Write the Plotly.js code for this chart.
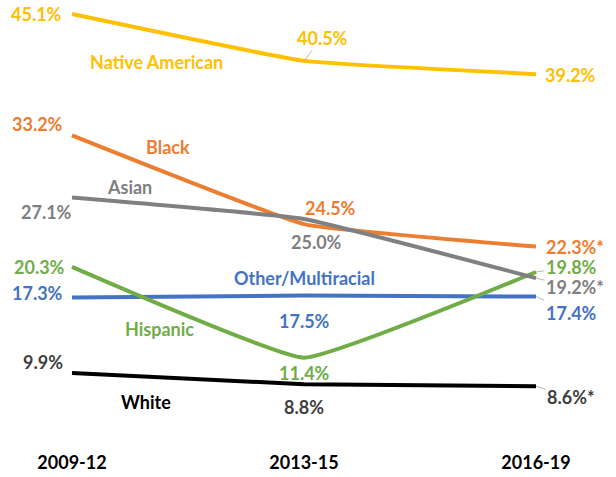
<!DOCTYPE html>
<html>
<head>
<meta charset="utf-8">
<script src="https://cdn.plot.ly/plotly-3.0.1.min.js"></script>
<style>html,body{margin:0;padding:0;background:#fff}#chart{width:616px;height:477px}</style>
</head>
<body>
<div id="chart"></div>
<script>
// ---- data ----
var periods = ["2009-12", "2013-15", "2016-19"];
var nativeAmerican = [45.1, 40.5, 39.2];
var black = [33.2, 24.5, 22.3];
var asian = [27.1, 25.0, 19.2];
var hispanic = [20.3, 11.4, 19.8];
var otherMulti = [17.3, 17.5, 17.4];
var white = [9.9, 8.8, 8.6];
var seriesNames = ["Native American", "Black", "Asian", "Hispanic", "Other/Multiracial", "White"];
var starred = { "Black": [false, false, true], "Asian": [false, false, true], "White": [false, false, true] };

// ---- styles ----
var FONT = "Lato, 'Open Sans', sans-serif";
var styles = {
  "Native American": { color: "#FFC000", label: "#FFC000", valColor: ["#FFC000","#FFC000","#FFC000"] },
  "Black": { color: "#ED7D31", label: "#ED7D31", valColor: ["#ED7D31","#ED7D31","#ED7D31"] },
  "Asian": { color: "#808080", label: "#7F7F7F", valColor: ["#7F7F7F","#7F7F7F","#7F7F7F"] },
  "Hispanic": { color: "#70AD47", label: "#70AD47", valColor: ["#70AD47","#70AD47","#70AD47"] },
  "Other/Multiracial": { color: "#4472C4", label: "#4472C4", valColor: ["#4472C4","#4472C4","#4472C4"] },
  "White": { color: "#000000", label: "#000000", valColor: ["#404040","#404040","#404040"] }
};
// value label pixel offsets [dx, dy, leader]
var valOffsets = {
  "Native American": [[-35, 0, 0], [18, -23, 1], [34, 1, 0]],
  "Black": [[-34, -11, 0], [26, -16, 0], [39, 0, 0]],
  "Asian": [[-25, 14, 0], [12, 23, 0], [39, 9, 1]],
  "Hispanic": [[-32, 0, 0], [0, 15, 0], [35, -5, 1]],
  "Other/Multiracial": [[-34, -5, 0], [0, 26, 0], [35, 16, 1]],
  "White": [[-29, -11, 0], [0, 23, 0], [35, 11, 1]]
};
// series name label positions (in axis units)
var namePos = {
  "Native American": [0.366, 40.4],
  "Black": [0.414, 32.06],
  "Asian": [0.25, 28.14],
  "Hispanic": [0.379, 14.2],
  "Other/Multiracial": [1.0, 19.2],
  "White": [0.319, 7.06]
};

var values = {
  "Native American": nativeAmerican, "Black": black, "Asian": asian,
  "Hispanic": hispanic, "Other/Multiracial": otherMulti, "White": white
};
var drawOrder = ["White", "Other/Multiracial", "Hispanic", "Black", "Asian", "Native American"];
var xIdx = periods.map(function (p, i) { return i; });

var traces = drawOrder.map(function (name) {
  return {
    x: xIdx, y: values[name], type: "scatter", mode: "lines", name: name,
    line: { color: styles[name].color, width: 4, shape: "spline", smoothing: 0.3 },
    hoverinfo: "skip", cliponaxis: false
  };
});

var annotations = [];
seriesNames.forEach(function (name) {
  var vals = values[name];
  vals.forEach(function (v, i) {
    var off = valOffsets[name][i];
    var star = starred[name] && starred[name][i] ? "*" : "";
    var a = {
      xref: "x", yref: "y", x: i, y: v,
      text: "<b>" + v.toFixed(1) + "%" + star + "</b>",
      font: { family: FONT, size: 18, color: styles[name].valColor[i] },
      xanchor: "center", yanchor: "middle"
    };
    if (off[2]) {
      a.showarrow = true; a.arrowhead = 0; a.arrowwidth = 0.8; a.arrowcolor = "#A6A6A6";
      a.ax = off[0]; a.ay = off[1]; a.standoff = 0; a.startstandoff = 0;
    } else {
      a.showarrow = false; a.xshift = off[0]; a.yshift = -off[1];
    }
    annotations.push(a);
  });
  annotations.push({
    xref: "x", yref: "y", x: namePos[name][0], y: namePos[name][1],
    text: "<b>" + name + "</b>", showarrow: false, xanchor: "center", yanchor: "middle",
    font: { family: FONT, size: 18, color: styles[name].label }
  });
});

var layout = {
  width: 616, height: 477,
  margin: { l: 0, r: 0, t: 0, b: 37, pad: 0 },
  paper_bgcolor: "#ffffff", plot_bgcolor: "#ffffff",
  showlegend: false,
  xaxis: {
    range: [-0.3103, 2.3448], tickmode: "array", tickvals: xIdx, ticktext: periods.map(function (p) { return "<b>" + p + "</b>"; }),
    showgrid: false, zeroline: false, showline: false, ticks: "", ticklabelstandoff: 10,
    tickfont: { family: FONT, size: 18, color: "#000000" }
  },
  yaxis: {
    range: [3.33, 46.47], showgrid: false, zeroline: false, showline: false,
    showticklabels: false, ticks: ""
  },
  annotations: annotations
};

Plotly.newPlot("chart", traces, layout, { staticPlot: true, displayModeBar: false });
</script>
</body>
</html>
